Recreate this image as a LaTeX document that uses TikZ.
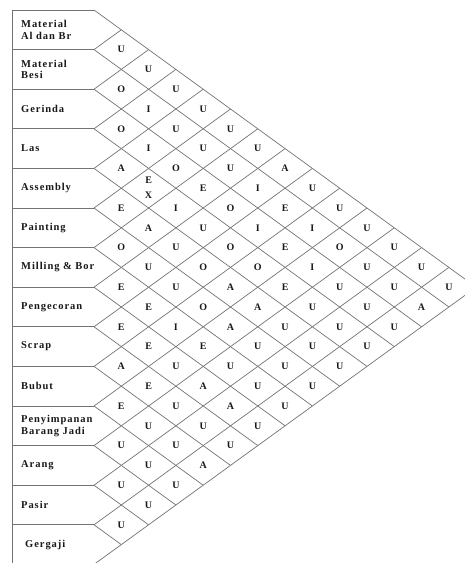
\documentclass[tikz,border=0pt]{standalone}
\usepackage{fontspec}
\setmainfont{Liberation Serif}
\newfontfamily\deptfont[LetterSpace=9]{Liberation Serif}
\usepackage{tikz}
\tikzset{
  arcline/.style={draw=black!55, line width=0.7pt},
  dept/.style={anchor=west, align=left, inner sep=0pt, text=black!90,
    font=\deptfont\bfseries\fontsize{10.5}{11.5}\selectfont},
  rel/.style={inner sep=0pt, align=center, text=black!90,
    font=\bfseries\fontsize{10}{12}\selectfont}
}

\begin{document}
\begin{tikzpicture}[x=1pt, y=-1pt]
  \useasboundingbox (0,0) rectangle (464,563);
  % department boxes and diagonal grid
  \foreach \k in {0,...,14}
    \draw[arcline] (12,{10+39.6*\k}) -- (94,{10+39.6*\k});
  \draw[arcline] (12,10) -- (12,{10+39.6*14});
  \foreach \k in {0,...,13}
    \draw[arcline] (94,{10+39.6*\k}) -- ++({27.3*(14-\k)},{19.8*(14-\k)});
  \foreach \k in {1,...,14}
    \draw[arcline] (94,{10+39.6*\k}) -- ++({27.3*\k},{-19.8*\k});

  % departments
  \node[dept] (d1) at (21,29.8) {Material\\Al dan Br};
  \node[dept] (d2) at (21,69.4) {Material\\Besi};
  \node[dept] (d3) at (21,109.0) {Gerinda};
  \node[dept] (d4) at (21,148.6) {Las};
  \node[dept] (d5) at (21,188.2) {Assembly};
  \node[dept] (d6) at (21,227.8) {Painting};
  \node[dept] (d7) at (21,267.4) {Milling \& Bor};
  \node[dept] (d8) at (21,307.0) {Pengecoran};
  \node[dept] (d9) at (21,346.6) {Scrap};
  \node[dept] (d10) at (21,386.2) {Bubut};
  \node[dept] (d11) at (21,425.8) {Penyimpanan\\Barang Jadi};
  \node[dept] (d12) at (21,465.4) {Arang};
  \node[dept] (d13) at (21,505.0) {Pasir};
  \node[dept] (d14) at (25,544.6) {Gergaji};

  % relationship letters, row i against j = i+1 ... 14
  \foreach \i/\row in {
      1/{U,U,U,U,U,U,A,U,U,U,U,U,U},
      2/{O,I,U,U,U,I,E,I,O,U,U,A},
      3/{O,I,O,E,O,I,E,I,U,U,U},
      4/{A,{E\\[3pt]X},I,U,O,O,E,U,U,U},
      5/{E,A,U,O,A,A,U,U,U},
      6/{O,U,U,O,A,U,U,U},
      7/{E,E,I,E,U,U,U},
      8/{E,E,U,A,A,U},
      9/{A,E,U,U,U},
      10/{E,U,U,A},
      11/{U,U,U},
      12/{U,U},
      13/{U}}
    \foreach \r [count=\c] in \row
      \node[rel] (r\i-\c) at ({94+27.3*\c},{10+19.8*(2*\i+\c-1)}) {\r};
\end{tikzpicture}
\end{document}
